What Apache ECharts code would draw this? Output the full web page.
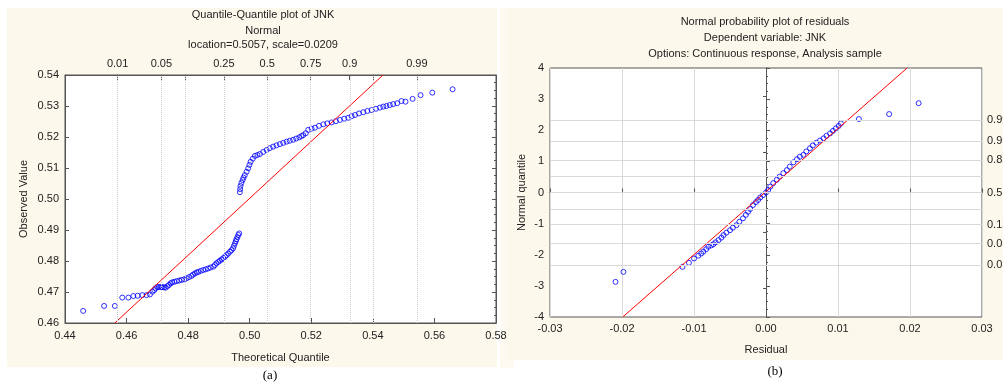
<!DOCTYPE html>
<html>
<head>
<meta charset="utf-8">
<script src="https://cdn.jsdelivr.net/npm/echarts@6/dist/echarts.min.js"></script>
<style>
html, body { margin: 0; padding: 0; background: #fff; }
#main { width: 1003px; height: 383px; }
</style>
</head>
<body>
<div id="main"></div>
<script>
// (a) Quantile-Quantile plot of JNK
var qqLocation = 0.5057;
var qqScale = 0.0209;
var qqTheo = [0.4459, 0.4527, 0.4562, 0.4586, 0.4606, 0.4622, 0.4636, 0.4651, 0.4665, 0.4676,
	0.4684, 0.4690, 0.4694, 0.4700, 0.4705, 0.4711, 0.4716, 0.4722, 0.4727, 0.4733,
	0.4738, 0.4743, 0.4748, 0.4755, 0.4763, 0.4771, 0.4779, 0.4787, 0.4795, 0.4803,
	0.4811, 0.4816, 0.4822, 0.4828, 0.4833, 0.4841, 0.4849, 0.4857, 0.4865, 0.4873,
	0.4882, 0.4887, 0.4892, 0.4898, 0.4903, 0.4909, 0.4914, 0.4920, 0.4925, 0.4930,
	0.4936, 0.4941, 0.4946, 0.4949, 0.4952, 0.4955, 0.4957, 0.4960, 0.4963, 0.4966,
	0.4968, 0.4969, 0.4970, 0.4973, 0.4977, 0.4980, 0.4984, 0.4990, 0.4995, 0.4999,
	0.5003, 0.5010, 0.5017, 0.5025, 0.5033, 0.5044, 0.5055, 0.5065, 0.5076, 0.5087,
	0.5098, 0.5109, 0.5120, 0.5130, 0.5141, 0.5151, 0.5161, 0.5168, 0.5174, 0.5182,
	0.5190, 0.5201, 0.5212, 0.5225, 0.5239, 0.5252, 0.5266, 0.5280, 0.5293, 0.5307,
	0.5320, 0.5331, 0.5342, 0.5355, 0.5369, 0.5382, 0.5396, 0.5410, 0.5423, 0.5434,
	0.5444, 0.5455, 0.5466, 0.5479, 0.5493, 0.5506, 0.5529, 0.5555, 0.5593, 0.5659];
var qqObs = [0.4639, 0.4655, 0.4655, 0.4682, 0.4682, 0.4687, 0.4688, 0.4690, 0.4690, 0.4692,
	0.4701, 0.4706, 0.4712, 0.4716, 0.4716, 0.4716, 0.4716, 0.4715, 0.4714, 0.4719,
	0.4723, 0.4728, 0.4731, 0.4733, 0.4735, 0.4737, 0.4739, 0.4741, 0.4744, 0.4748,
	0.4752, 0.4756, 0.4760, 0.4763, 0.4765, 0.4768, 0.4771, 0.4773, 0.4776, 0.4779,
	0.4782, 0.4787, 0.4793, 0.4797, 0.4801, 0.4805, 0.4809, 0.4814, 0.4819, 0.4824,
	0.4830, 0.4835, 0.4841, 0.4849, 0.4857, 0.4864, 0.4870, 0.4877, 0.4884, 0.4889,
	0.5022, 0.5032, 0.5042, 0.5052, 0.5061, 0.5069, 0.5077, 0.5088, 0.5099, 0.5110,
	0.5120, 0.5130, 0.5139, 0.5142, 0.5145, 0.5152, 0.5158, 0.5164, 0.5169, 0.5173,
	0.5177, 0.5181, 0.5185, 0.5188, 0.5191, 0.5195, 0.5199, 0.5203, 0.5206, 0.5212,
	0.5223, 0.5227, 0.5230, 0.5236, 0.5241, 0.5244, 0.5247, 0.5251, 0.5255, 0.5259,
	0.5262, 0.5267, 0.5271, 0.5276, 0.5280, 0.5284, 0.5287, 0.5291, 0.5295, 0.5298,
	0.5300, 0.5303, 0.5306, 0.5309, 0.5316, 0.5314, 0.5323, 0.5335, 0.5343, 0.5354];
var qqLineX = [0.4562, 0.5433];
var qqLineY = [0.46, 0.54];
// top probability scale: normal quantiles placed with location/scale
var qqProbLabels = ['0.01', '0.05', '', '0.25', '0.5', '0.75', '0.9', '', '0.99'];
var qqProbZ = [-2.326, -1.645, -1.282, -0.674, 0, 0.674, 1.282, 1.645, 2.326];

// (b) Normal probability plot of residuals
var resX = [-0.0209, -0.0198, -0.0116, -0.0107, -0.0100, -0.0094, -0.0090, -0.0087, -0.0083, -0.0080,
	-0.0076, -0.0073, -0.0070, -0.0066, -0.0062, -0.0059, -0.0055, -0.0050, -0.0046, -0.0041,
	-0.0037, -0.0032, -0.0028, -0.0025, -0.0022, -0.0018, -0.0014, -0.0011, -0.0008, -0.0004,
	0.0000, 0.0003, 0.0006, 0.0010, 0.0015, 0.0019, 0.0024, 0.0029, 0.0033, 0.0038,
	0.0043, 0.0047, 0.0052, 0.0056, 0.0061, 0.0065, 0.0070, 0.0075, 0.0080, 0.0084,
	0.0089, 0.0093, 0.0097, 0.0101, 0.0104, 0.0129, 0.0171, 0.0212];
var resZ = [-2.87, -2.55, -2.39, -2.26, -2.12, -2.03, -1.96, -1.90, -1.82, -1.74,
	-1.70, -1.66, -1.60, -1.53, -1.45, -1.37, -1.29, -1.21, -1.13, -1.05,
	-0.94, -0.83, -0.72, -0.62, -0.53, -0.40, -0.31, -0.24, -0.16, -0.08,
	0.00, 0.08, 0.19, 0.30, 0.41, 0.51, 0.62, 0.72, 0.83, 0.97,
	1.07, 1.15, 1.21, 1.32, 1.42, 1.51, 1.60, 1.67, 1.74, 1.82,
	1.90, 1.98, 2.06, 2.14, 2.22, 2.36, 2.52, 2.87];
var resLineX = [-0.0199, 0.0196];
var resLineY = [-4, 4];
var resProbLabels = ['0.01', '0.05', '0.15', '', '0.5', '', '0.85', '0.95', '0.99'];
var resProbZ = [-2.326, -1.645, -1.036, -0.524, 0, 0.524, 1.036, 1.645, 2.326];
var resSideTicks = [-3.09, -2.326, -1.645, -1.282, -1.036, -0.524, 0, 0.524, 1.036, 1.282, 1.645, 2.326, 3.09];

var font = "'Liberation Sans', Arial, sans-serif";
var txt = '#222';
var axisCol = '#555';

function pairs(xs, ys) {
	var out = [];
	for (var i = 0; i < xs.length; i++) out.push([xs[i], ys[i]]);
	return out;
}

var chart = echarts.init(document.getElementById('main'));

var qqTopPos = qqProbZ.map(function (z) { return qqLocation + z * qqScale; });

var option = {
	animation: false,
	textStyle: { fontFamily: font },
	graphic: [
		{ type: 'rect', z: -10, shape: { x: 7, y: 8, width: 490, height: 359 }, style: { fill: '#fdf8ec' } },
		{ type: 'rect', z: -10, shape: { x: 500, y: 8, width: 14, height: 360 }, style: { fill: '#fefaf1' } },
		{ type: 'rect', z: -10, shape: { x: 507, y: 8, width: 496, height: 352 }, style: { fill: '#fdf8ec' } },
		{ type: 'text', x: 263, y: 15, style: { text: 'Quantile-Quantile plot of JNK', font: '11px ' + font, fill: txt, textAlign: 'center', textVerticalAlign: 'middle' } },
		{ type: 'text', x: 263, y: 31, style: { text: 'Normal', font: '11px ' + font, fill: txt, textAlign: 'center', textVerticalAlign: 'middle' } },
		{ type: 'text', x: 263, y: 45, style: { text: 'location=0.5057, scale=0.0209', font: '11px ' + font, fill: txt, textAlign: 'center', textVerticalAlign: 'middle' } },
		{ type: 'text', x: 765, y: 22, style: { text: 'Normal probability plot of residuals', font: '11px ' + font, fill: txt, textAlign: 'center', textVerticalAlign: 'middle' } },
		{ type: 'text', x: 765, y: 38, style: { text: 'Dependent variable: JNK', font: '11px ' + font, fill: txt, textAlign: 'center', textVerticalAlign: 'middle' } },
		{ type: 'text', x: 765, y: 54, style: { text: 'Options: Continuous response, Analysis sample', font: '11px ' + font, fill: txt, textAlign: 'center', textVerticalAlign: 'middle' } },
		{ type: 'text', x: 270, y: 376, style: { text: '(a)', font: "13px 'Liberation Serif', 'Times New Roman', serif", fill: '#000', textAlign: 'center', textVerticalAlign: 'middle' } },
		{ type: 'text', x: 775, y: 372, style: { text: '(b)', font: "13px 'Liberation Serif', 'Times New Roman', serif", fill: '#000', textAlign: 'center', textVerticalAlign: 'middle' } }
	],
	grid: [
		{ left: 65, top: 75, width: 431, height: 248, show: true, backgroundColor: '#fff', borderColor: axisCol, borderWidth: 1, outerBoundsMode: 'none' },
		{ left: 550, top: 68, width: 432, height: 249, show: true, backgroundColor: '#fff', borderColor: axisCol, borderWidth: 1, outerBoundsMode: 'none' }
	],
	xAxis: [
		{
			gridIndex: 0, type: 'value', position: 'bottom', min: 0.44, max: 0.58, interval: 0.02,
			name: 'Theoretical Quantile', nameLocation: 'middle', nameGap: 29,
			nameTextStyle: { fontSize: 11, color: txt },
			axisLine: { lineStyle: { color: axisCol } },
			axisTick: { inside: true, length: 5, lineStyle: { color: axisCol } },
			axisLabel: { fontSize: 11, color: txt, margin: 7, formatter: function (v) { return v.toFixed(2); } },
			splitLine: { show: false }
		},
		{
			gridIndex: 0, type: 'value', position: 'top', min: 0.44, max: 0.58,
			axisLine: { lineStyle: { color: axisCol } },
			axisTick: { inside: true, length: 5, customValues: qqTopPos, lineStyle: { color: axisCol } },
			axisLabel: { show: false },
			splitLine: { show: false }
		},
		{
			gridIndex: 1, type: 'value', position: 'bottom', min: -0.03, max: 0.03, interval: 0.01,
			name: 'Residual', nameLocation: 'middle', nameGap: 27,
			nameTextStyle: { fontSize: 11, color: txt },
			axisLine: { lineStyle: { color: axisCol } },
			axisTick: { inside: true, length: 4, lineStyle: { color: axisCol } },
			axisLabel: { fontSize: 11, color: txt, margin: 6, formatter: function (v) { return v.toFixed(2); } },
			splitLine: { show: true, lineStyle: { color: '#d9d9d9', width: 1 } }
		},
		{
			gridIndex: 1, type: 'value', position: 'top', min: -0.03, max: 0.03, interval: 0.01,
			axisLine: { lineStyle: { color: axisCol } },
			axisTick: { show: false },
			axisLabel: { show: false },
			splitLine: { show: false }
		}
	],
	yAxis: [
		{
			gridIndex: 0, type: 'value', position: 'left', min: 0.46, max: 0.54, interval: 0.01,
			name: 'Observed Value', nameLocation: 'middle', nameGap: 36,
			nameTextStyle: { fontSize: 11, color: txt },
			axisLine: { show: true, lineStyle: { color: axisCol } },
			axisTick: { show: true, inside: true, length: 4, lineStyle: { color: axisCol } },
			axisLabel: { fontSize: 11, color: txt, margin: 6, formatter: function (v) { return v.toFixed(2); } },
			splitLine: { show: false }
		},
		{
			gridIndex: 0, type: 'value', position: 'right', min: 0.46, max: 0.54, interval: 0.01,
			axisLine: { show: true, lineStyle: { color: axisCol } },
			axisTick: { show: true, inside: true, length: 4, lineStyle: { color: axisCol } },
			minorTick: { show: true, splitNumber: 4, length: 2, lineStyle: { color: axisCol } },
			axisLabel: { show: false },
			splitLine: { show: false }
		},
		{
			gridIndex: 1, type: 'value', position: 'left', min: -4, max: 4, interval: 1,
			name: 'Normal quantile', nameLocation: 'middle', nameGap: 23,
			nameTextStyle: { fontSize: 11, color: txt },
			axisLine: { show: true, lineStyle: { color: axisCol } },
			axisTick: { show: true, inside: true, length: 4, lineStyle: { color: axisCol } },
			minorTick: { show: true, splitNumber: 4, length: 2, lineStyle: { color: axisCol } },
			axisLabel: { fontSize: 11, color: txt, margin: 6 },
			splitLine: { show: false }
		},
		{
			gridIndex: 1, type: 'value', position: 'right', min: -4, max: 4, interval: 1,
			axisLine: { show: true, lineStyle: { color: axisCol } },
			axisTick: { show: true, inside: true, length: 3, customValues: resSideTicks, lineStyle: { color: axisCol } },
			axisLabel: { show: false },
			splitLine: { show: false }
		}
	],
	series: [
		{
			// probability grid of the Q-Q plot
			type: 'line', xAxisIndex: 0, yAxisIndex: 0, data: [], z: 1,
			markLine: {
				silent: true, symbol: 'none', precision: 4,
				lineStyle: { color: '#cfcfcf', type: 'dotted', width: 1 },
				label: { position: 'end', distance: 6, formatter: '{b}', fontSize: 11, color: txt, fontFamily: font },
				data: qqTopPos.map(function (x, i) {
					return { xAxis: x, name: qqProbLabels[i], label: { show: qqProbLabels[i] !== '' } };
				})
			}
		},
		{
			type: 'scatter', xAxisIndex: 0, yAxisIndex: 0, z: 3,
			symbol: 'circle', symbolSize: 5,
			itemStyle: { color: 'rgba(0,0,0,0)', borderColor: '#0000ff', borderWidth: 1 },
			data: pairs(qqTheo, qqObs)
		},
		{
			type: 'line', xAxisIndex: 0, yAxisIndex: 0, z: 4,
			showSymbol: false, symbol: 'none',
			lineStyle: { color: '#ff0000', width: 1 },
			data: pairs(qqLineX, qqLineY)
		},
		{
			// probability grid of the residual plot
			type: 'line', xAxisIndex: 2, yAxisIndex: 2, data: [], z: 1,
			markLine: {
				silent: true, symbol: 'none', precision: 4,
				lineStyle: { color: '#d9d9d9', type: 'solid', width: 1 },
				label: { position: 'end', distance: 5, formatter: '{b}', fontSize: 11, color: txt, fontFamily: font, align: 'left' },
				data: resProbZ.map(function (z, i) {
					return { yAxis: z, name: resProbLabels[i], label: { show: resProbLabels[i] !== '' } };
				})
			}
		},
		{
			type: 'scatter', xAxisIndex: 2, yAxisIndex: 2, z: 3,
			symbol: 'circle', symbolSize: 5,
			itemStyle: { color: 'rgba(0,0,0,0)', borderColor: '#0000ff', borderWidth: 1 },
			data: pairs(resX, resZ)
		},
		{
			type: 'line', xAxisIndex: 2, yAxisIndex: 2, z: 4,
			showSymbol: false, symbol: 'none',
			lineStyle: { color: '#ff0000', width: 1 },
			data: pairs(resLineX, resLineY)
		}
	]
};

chart.setOption(option);
</script>
</body>
</html>
